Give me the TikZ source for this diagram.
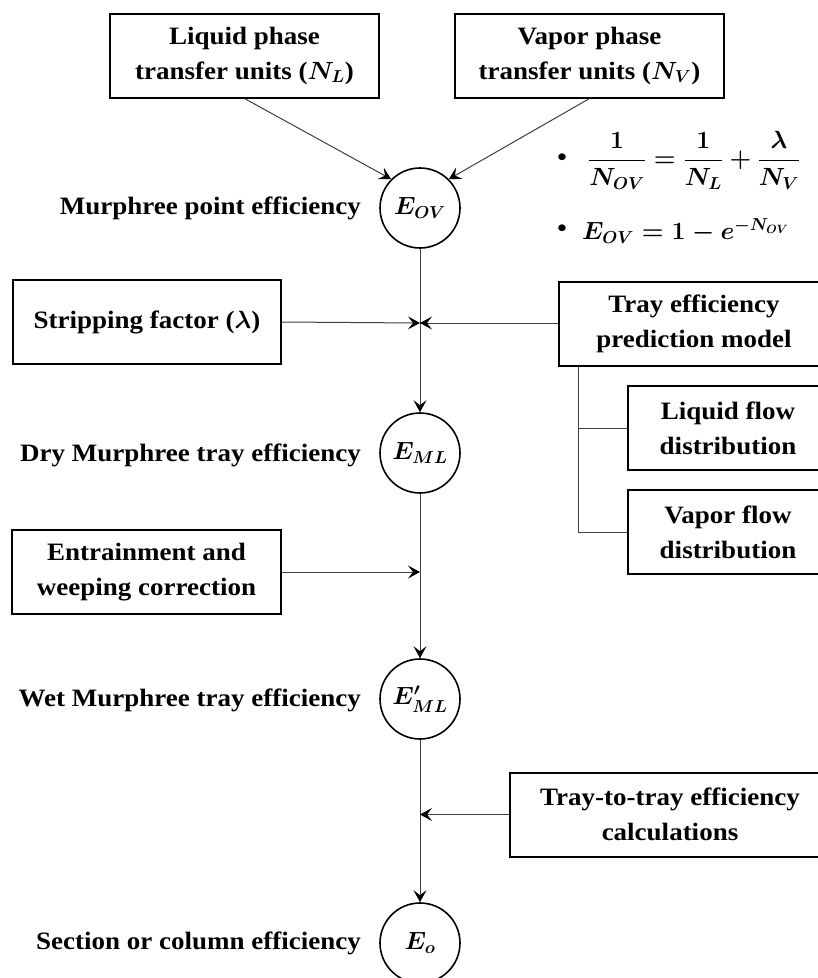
\documentclass[tikz,border=0pt]{standalone}
\usepackage{amsmath}
\usepackage{fontspec}
\setmainfont{Liberation Serif}[FakeStretch=1.08]
\usetikzlibrary{arrows.meta}
\newcommand\diagfont{\bfseries\boldmath\fontsize{25}{35}\selectfont}
\begin{document}
\begin{tikzpicture}[x=1pt,y=-1pt,
  every node/.style={font=\diagfont},
  box/.style={draw, line width=2pt, minimum height=84pt, align=center, inner sep=0pt},
  crc/.style={draw, circle, line width=1.6pt, minimum size=80pt, inner sep=0pt},
  conn/.style={line width=1pt, draw=black!75},
  arr/.style={conn, -{Stealth[length=12pt,width=13pt,inset=5pt,color=black]}},
  lbl/.style={anchor=east, inner sep=0pt}]
\useasboundingbox (0,0) rectangle (818,978);
\fill[white] (0,0) rectangle (818,978);

% top boxes
\node[box, minimum width=269pt] (liq) at (244.5,55.5) {Liquid phase\\transfer units ($N_L$)};
\node[box, minimum width=269pt] (vap) at (589.5,55.5) {Vapor phase\\transfer units ($N_V$)};

% efficiency circles
\node[crc] (eov) at (420,208) {$E_{OV}$};
\node[crc] (eml) at (420,453) {$E_{ML}$};
\node[crc] (emw) at (420,699) {$E'_{ML}$};
\node[crc] (eo) at (420,943) {$E_o$};

% labels
\node[lbl] (l1) at (361,208) {Murphree point efficiency};
\node[lbl] (l2) at (361,455) {Dry Murphree tray efficiency};
\node[lbl] (l3) at (361,700) {Wet Murphree tray efficiency};
\node[lbl] (l4) at (361,943) {Section or column efficiency};

% formulas
\node[anchor=center, inner sep=0pt] (b1) at (562,160) {\textbullet};
\node[anchor=west, inner sep=0pt] (f1) at (588,160) {$\dfrac{1}{N_{OV}}=\dfrac{1}{N_L}+\dfrac{\lambda}{N_V}$};
\node[anchor=center, inner sep=0pt] (b2) at (562,231) {\textbullet};
\node[anchor=west, inner sep=0pt] (f2) at (582,231) {$E_{OV}=1-e^{-N_{OV}}$};

% side boxes
\node[box, minimum width=268pt] (strip) at (147,322) {Stripping factor ($\lambda$)};
\node[box, minimum width=270pt] (tray) at (694,324) {Tray efficiency\\prediction model};
\node[box, minimum width=200pt] (lfd) at (728,428) {Liquid flow\\distribution};
\node[box, minimum width=200pt] (vfd) at (728,532) {Vapor flow\\distribution};
\node[box, minimum width=269pt] (entr) at (146.5,572) {Entrainment and\\weeping correction};
\node[box, minimum width=320pt] (ttt) at (670,814.5) {Tray-to-tray efficiency\\calculations};

% junction coordinates
\coordinate (j1) at (420,323);
\coordinate (j2) at (420,572);
\coordinate (j3) at (420,814.5);
\coordinate (t0) at ([xshift=20pt]tray.south west);
\coordinate (t1) at (t0 |- lfd.west);
\coordinate (t2) at (t0 |- vfd.west);

% connectors
\draw[arr] (liq.south) -- (eov.135);
\draw[arr] (vap.south) -- (eov.45);
\draw[arr] (eov.south) -- (eml.north);
\draw[arr] (strip.east) -- (j1);
\draw[arr] (tray.west |- j1) -- (j1);
\draw[arr] (entr.east) -- (j2);
\draw[arr] (eml.south) -- (emw.north);
\draw[arr] (emw.south) -- (eo.north);
\draw[arr] (ttt.west) -- (j3);
\draw[conn] (t0) -- (t2);
\draw[conn] (t1) -- (lfd.west);
\draw[conn] (t2) -- (vfd.west);
\end{tikzpicture}
\end{document}
